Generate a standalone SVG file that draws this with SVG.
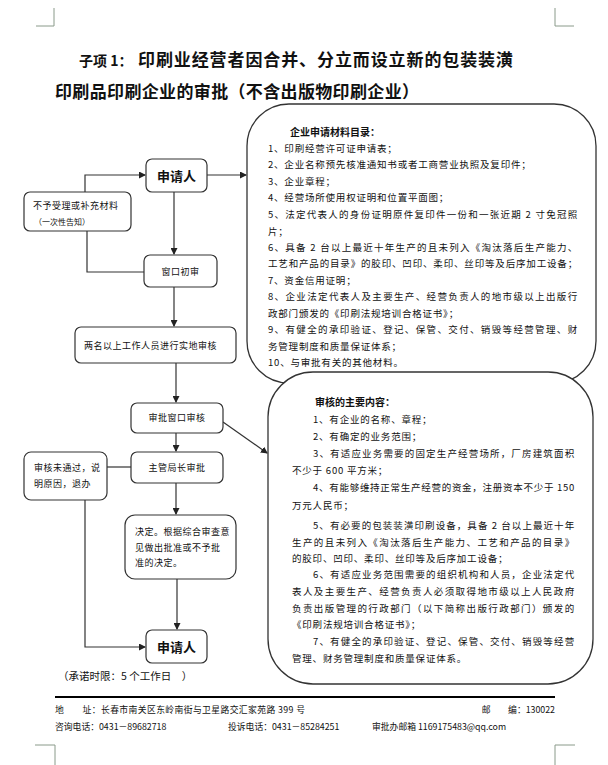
<svg xmlns="http://www.w3.org/2000/svg" width="608" height="765" viewBox="0 0 608 765">
<style>
text{font-family:"Noto Sans CJK SC","Liberation Sans",sans-serif;fill:#111}
.t{font-weight:bold;font-size:17px}
.box{fill:#fff;stroke:#333;stroke-width:1.2}
.big{fill:#fff;stroke:#333;stroke-width:1.3}
.s{font-size:9px;letter-spacing:0.5px}
.b{font-size:13px;font-weight:bold}
.r{font-size:9.5px;letter-spacing:0.8px}
.rb{font-size:10px;font-weight:bold}
.f{font-size:8.8px}
.c{fill:none;stroke:#333;stroke-width:1.2}
.crop{fill:none;stroke:#8a9a8a;stroke-width:1}
</style>
<defs>
<marker id="a" markerWidth="7" markerHeight="7" refX="6" refY="3.5" orient="auto" markerUnits="userSpaceOnUse">
<path d="M0,0 L7,3.5 L0,7 z" fill="#222"/>
</marker>
</defs>
<g id="crop-marks">
<path class="crop" d="M36,26 H54 V8"/>
<path class="crop" d="M555,8 V26 H574"/>
<path class="crop" d="M35,745 H55 V765"/>
<path class="crop" d="M555,765 V745 H575"/>
</g>
<g id="title">
<text x="79" y="66" style="font-size:14px;font-weight:bold">子项 1：</text>
<text class="t" x="138" y="66" textLength="375" lengthAdjust="spacing">印刷业经营者因合并、分立而设立新的包装装潢</text>
<text class="t" x="55" y="98" textLength="364" lengthAdjust="spacing">印刷品印刷企业的审批（不含出版物印刷企业）</text>
</g>
<g id="materials">
<rect class="big" x="247" y="104" width="349" height="279" rx="42" ry="42"/>
<text class="rb" x="290" y="136">企业申请材料目录：</text>
<text class="r" x="268" y="152">1、印刷经营许可证申请表；</text>
<text class="r" x="268" y="168">2、企业名称预先核准通知书或者工商营业执照及复印件；</text>
<text class="r" x="268" y="185">3、企业章程；</text>
<text class="r" x="268" y="201">4、经营场所使用权证明和位置平面图；</text>
<text class="r" x="268" y="218" textLength="310" lengthAdjust="spacing">5、法定代表人的身份证明原件复印件一份和一张近期 2 寸免冠照</text>
<text class="r" x="268" y="235">片；</text>
<text class="r" x="268" y="251" textLength="310" lengthAdjust="spacing">6、具备 2 台以上最近十年生产的且未列入《淘汰落后生产能力、</text>
<text class="r" x="268" y="267" textLength="310" lengthAdjust="spacing">工艺和产品的目录》的胶印、凹印、柔印、丝印等及后序加工设备；</text>
<text class="r" x="268" y="284">7、资金信用证明；</text>
<text class="r" x="268" y="300" textLength="310" lengthAdjust="spacing">8、企业法定代表人及主要生产、经营负责人的地市级以上出版行</text>
<text class="r" x="268" y="317">政部门颁发的《印刷法规培训合格证书》；</text>
<text class="r" x="268" y="333" textLength="310" lengthAdjust="spacing">9、有健全的承印验证、登记、保管、交付、销毁等经营管理、财</text>
<text class="r" x="268" y="350">务管理制度和质量保证体系；</text>
<text class="r" x="268" y="366">10、与审批有关的其他材料。</text>
</g>
<g id="review-content">
<rect class="big" x="268" y="372" width="325" height="312" rx="45" ry="45"/>
<text class="rb" x="315" y="406">审核的主要内容：</text>
<text class="r" x="313" y="423">1、有企业的名称、章程；</text>
<text class="r" x="313" y="440">2、有确定的业务范围；</text>
<text class="r" x="313" y="457" textLength="262" lengthAdjust="spacing">3、有适应业务需要的固定生产经营场所，厂房建筑面积</text>
<text class="r" x="292" y="474">不少于 600 平方米；</text>
<text class="r" x="313" y="491" textLength="262" lengthAdjust="spacing">4、有能够维持正常生产经营的资金，注册资本不少于 150</text>
<text class="r" x="292" y="509">万元人民币；</text>
<text class="r" x="313" y="529" textLength="262" lengthAdjust="spacing">5、有必要的包装装潢印刷设备，具备 2 台以上最近十年</text>
<text class="r" x="292" y="546" textLength="283" lengthAdjust="spacing">生产的且未列入《淘汰落后生产能力、工艺和产品的目录》</text>
<text class="r" x="292" y="562">的胶印、凹印、柔印、丝印等及后序加工设备；</text>
<text class="r" x="313" y="578" textLength="262" lengthAdjust="spacing">6、有适应业务范围需要的组织机构和人员，企业法定代</text>
<text class="r" x="292" y="595" textLength="283" lengthAdjust="spacing">表人及主要生产、经营负责人必须取得地市级以上人民政府</text>
<text class="r" x="292" y="612" textLength="283" lengthAdjust="spacing">负责出版管理的行政部门（以下简称出版行政部门）颁发的</text>
<text class="r" x="292" y="628">《印刷法规培训合格证书》；</text>
<text class="r" x="313" y="645" textLength="262" lengthAdjust="spacing">7、有健全的承印验证、登记、保管、交付、销毁等经营</text>
<text class="r" x="292" y="662">管理、财务管理制度和质量保证体系。</text>
</g>
<g id="connectors">
<path class="c" d="M85,192 V175 H145" marker-end="url(#a)"/>
<path class="c" d="M207,175 H246" marker-end="url(#a)"/>
<path class="c" d="M174,192 V254" marker-end="url(#a)"/>
<path class="c" d="M144,272 H87 V231"/>
<path class="c" d="M174,287 V326" marker-end="url(#a)"/>
<path class="c" d="M176,363 V402" marker-end="url(#a)"/>
<path class="c" d="M223,422 L267,453" marker-end="url(#a)"/>
<path class="c" d="M176,433 V451" marker-end="url(#a)"/>
<path class="c" d="M131,467 H107"/>
<path class="c" d="M85,500 V647 H145" marker-end="url(#a)"/>
<path class="c" d="M176,483 V514" marker-end="url(#a)"/>
<path class="c" d="M177,579 V629" marker-end="url(#a)"/>
</g>
<g id="applicant-top">
<rect class="box" x="146" y="159" width="61" height="33" rx="6"/>
<text class="b" x="176.5" y="180.5" text-anchor="middle">申请人</text>
</g>
<g id="reject">
<rect class="box" x="24" y="192" width="107" height="39" rx="6"/>
<text class="s" x="33" y="209">不予受理或补充材料</text>
<text x="34" y="225" style="font-size:8px">（一次性告知）</text>
</g>
<g id="window-check">
<rect class="box" x="144" y="255" width="73" height="32" rx="6"/>
<text class="s" x="180.5" y="275" text-anchor="middle">窗口初审</text>
</g>
<g id="field-check">
<rect class="box" x="75" y="327" width="161" height="36" rx="6"/>
<text class="s" x="84" y="349">两名以上工作人员进行实地审核</text>
</g>
<g id="approval-window">
<rect class="box" x="131" y="403" width="92" height="30" rx="6"/>
<text class="s" x="177" y="421" text-anchor="middle">审批窗口审核</text>
</g>
<g id="director">
<rect class="box" x="131" y="452" width="92" height="31" rx="6"/>
<text class="s" x="177" y="471" text-anchor="middle">主管局长审批</text>
</g>
<g id="not-passed">
<rect class="box" x="24" y="452" width="83" height="48" rx="7"/>
<text class="s" x="34" y="471">审核未通过，说</text>
<text class="s" x="34" y="487">明原因，退办</text>
</g>
<g id="decision">
<rect class="box" x="125" y="515" width="111" height="64" rx="10"/>
<text class="s" x="135" y="535">决定。根据综合审查意</text>
<text class="s" x="135" y="551">见做出批准或不予批</text>
<text class="s" x="135" y="566">准的决定。</text>
</g>
<g id="applicant-bottom">
<rect class="box" x="146" y="630" width="61" height="33" rx="6"/>
<text class="b" x="176.5" y="651.5" text-anchor="middle">申请人</text>
</g>
<text x="58" y="680" style="font-size:10.5px">（承诺时限：5 个工作日　）</text>
<g id="footer">
<line x1="55" y1="697" x2="555" y2="697" stroke="#000" stroke-width="2"/>
<text class="f" x="55" y="713" textLength="250" lengthAdjust="spacing">地　　址：长春市南关区东岭南街与卫星路交汇家苑路 399 号</text>
<text class="f" x="555" y="713" text-anchor="end">邮　　编：130022</text>
<text class="f" x="55" y="730">咨询电话：0431－89682718</text>
<text class="f" x="228" y="730">投诉电话：0431－85284251</text>
<text class="f" x="372" y="730">审批办邮箱 1169175483@qq.com</text>
</g>
</svg>
